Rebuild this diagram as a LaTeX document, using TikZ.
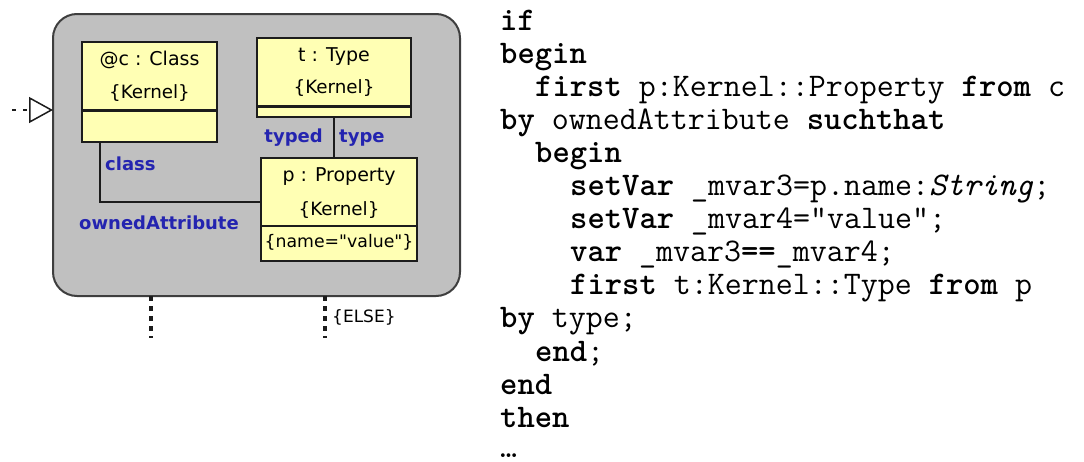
\documentclass[tikz,border=0pt]{standalone}
\usepackage{fontspec}
\newfontfamily\dejavu{DejaVu Sans}
\usetikzlibrary{arrows.meta}
\definecolor{umlyellow}{RGB}{255,255,180}
\definecolor{storygray}{RGB}{192,192,192}
\definecolor{roleblue}{RGB}{36,36,176}
\definecolor{edgecol}{RGB}{28,28,28}
\tikzset{
  objbox/.style={draw=edgecol, line width=1.5pt, fill=umlyellow, anchor=north west, inner sep=0pt, outer sep=0pt},
  objtxt/.style={inner sep=0pt, font=\dejavu\fontsize{19}{22}\selectfont},
  kertxt/.style={inner sep=0pt, font=\dejavu\fontsize{18.3}{21}\selectfont},
  roletxt/.style={inner sep=0pt, text=roleblue, font=\dejavu\bfseries\fontsize{18}{21}\selectfont},
  assoc/.style={draw=edgecol, line width=1.5pt},
  thicksep/.style={draw=edgecol, line width=3pt},
  thinsep/.style={draw=edgecol, line width=1.5pt},
  flowline/.style={draw=edgecol, line width=3.5pt, dash pattern=on 5pt off 5pt},
  codeline/.style={anchor=base west, inner sep=0pt, font=\ttfamily\fontsize{33}{36}\selectfont},
}
\begin{document}
\begin{tikzpicture}[x=1pt,y=-1pt]
\useasboundingbox (0,0) rectangle (1084,461);

% activity (story) box
\node[draw=edgecol!85, line width=2pt, fill=storygray, rounded corners=24pt,
      minimum width=407pt, minimum height=282pt, anchor=north west, inner sep=0pt, outer sep=0pt] (act) at (53,14) {};

% @c : Class
\node[objbox, minimum width=135pt, minimum height=100pt] (cls) at (82,42) {};
\node[objtxt] (clsname) at ([yshift=-18pt]cls.north) {@c : Class};
\node[kertxt] (clskern) at ([yshift=-51pt]cls.north) {\{Kernel\}};
\draw[thicksep] ([yshift=-68pt]cls.north west) -- ([yshift=-68pt]cls.north east);

% t : Type
\node[objbox, minimum width=154pt, minimum height=79pt] (typ) at (257,38) {};
\node[objtxt] (typname) at ([yshift=-19pt]typ.north) {t : Type};
\node[kertxt] (typkern) at ([yshift=-50pt]typ.north) {\{Kernel\}};
\draw[thicksep] ([yshift=-68pt]typ.north west) -- ([yshift=-68pt]typ.north east);

% p : Property
\node[objbox, minimum width=156pt, minimum height=103pt] (prop) at (261,158) {};
\node[objtxt] (propname) at ([yshift=-19pt]prop.north) {p : Property};
\node[kertxt] (propkern) at ([yshift=-52pt]prop.north) {\{Kernel\}};
\draw[thinsep] ([yshift=-68pt]prop.north west) -- ([yshift=-68pt]prop.north east);
\node[kertxt, font=\dejavu\fontsize{17.3}{20}\selectfont] (propcons) at ([yshift=-84pt]prop.north) {\{name="value"\}};

% links
\draw[assoc] ([xshift=18pt]cls.south west) |- ([yshift=7.5pt]prop.west);
\draw[assoc] (typ.south) -- (typ.south |- prop.north);

% role labels
\node[roletxt, anchor=east] (typedlbl) at (323,138) {typed};
\node[roletxt, anchor=west] (typelbl) at (339,138) {type};
\node[roletxt, anchor=west] (classlbl) at (105,164) {class};
\node[roletxt, anchor=west] (ownlbl) at (79,223) {ownedAttribute};

% incoming transition
\coordinate (inS) at (12,110);
\draw[edgecol, line width=2.5pt, dash pattern=on 4pt off 7pt,
      -{Triangle[open, length=24pt, width=26pt, line width=1.5pt]}] (inS) -- (act.west |- inS);

% outgoing transitions
\coordinate (o1) at (151,338);
\coordinate (o2) at (325,338);
\draw[flowline] (act.south -| o1) -- (o1);
\draw[flowline] (act.south -| o2) -- (o2);
\node[inner sep=0pt, anchor=west, font=\dejavu\fontsize{17}{20}\selectfont] (elselbl) at (332,317) {\{ELSE\}};

% code
\node[codeline] (l1)  at (500, 30.0) {\textbf{if}};
\node[codeline] (l2)  at (500, 63.1) {\textbf{begin}};
\node[codeline] (l3)  at (535, 96.2) {\textbf{first} p:Kernel::Property \textbf{from} c};
\node[codeline] (l4)  at (500,129.3) {\textbf{by} ownedAttribute \textbf{suchthat}};
\node[codeline] (l5)  at (535,162.4) {\textbf{begin}};
\node[codeline] (l6)  at (570,195.5) {\textbf{setVar} \_mvar3=p.name:\textit{String};};
\node[codeline] (l7)  at (570,228.6) {\textbf{setVar} \_mvar4="value";};
\node[codeline] (l8)  at (570,261.7) {\textbf{var} \_mvar3\textbf{==}\_mvar4;};
\node[codeline] (l9)  at (570,294.8) {\textbf{first} t:Kernel::Type \textbf{from} p};
\node[codeline] (l10) at (500,327.9) {\textbf{by} type;};
\node[codeline] (l11) at (535,361.0) {\textbf{end};};
\node[codeline] (l12) at (500,394.1) {\textbf{end}};
\node[codeline] (l13) at (500,427.2) {\textbf{then}};
\node[codeline] (l14) at (500,457.0) {…};
\end{tikzpicture}
\end{document}
